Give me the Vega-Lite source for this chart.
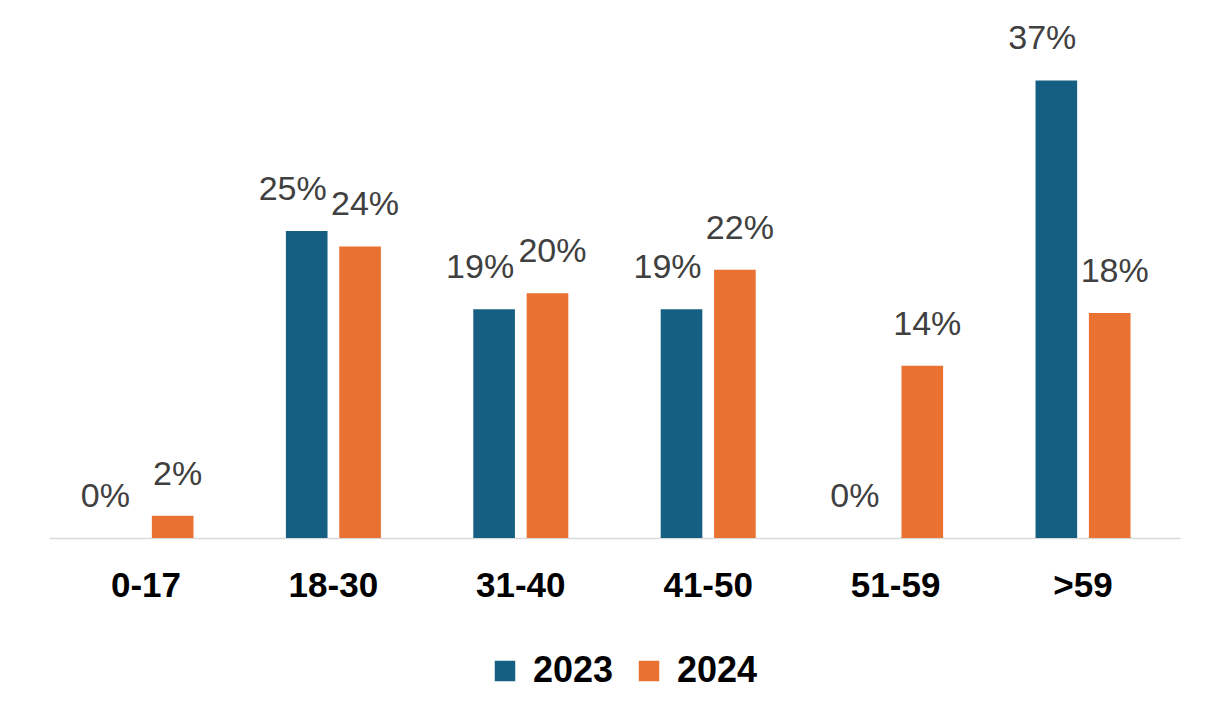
{
  "$schema": "https://vega.github.io/schema/vega-lite/v6.json",
  "autosize": "none",
  "width": 1131,
  "height": 492,
  "padding": {"left": 49, "top": 46, "right": 40, "bottom": 188},
  "background": "white",
  "config": {
    "view": {"stroke": null},
    "font": "Liberation Sans"
  },
  "data": {
    "values": [
      {"age": "0-17", "year": "2023", "value": 0.0},
      {"age": "0-17", "year": "2024", "value": 0.018},
      {"age": "18-30", "year": "2023", "value": 0.2496},
      {"age": "18-30", "year": "2024", "value": 0.237},
      {"age": "31-40", "year": "2023", "value": 0.186},
      {"age": "31-40", "year": "2024", "value": 0.199},
      {"age": "41-50", "year": "2023", "value": 0.186},
      {"age": "41-50", "year": "2024", "value": 0.218},
      {"age": "51-59", "year": "2023", "value": 0.0},
      {"age": "51-59", "year": "2024", "value": 0.14},
      {"age": ">59", "year": "2023", "value": 0.372},
      {"age": ">59", "year": "2024", "value": 0.183}
    ]
  },
  "encoding": {
    "x": {
      "field": "age",
      "type": "nominal",
      "sort": null,
      "scale": {"paddingInner": 0.493, "paddingOuter": 0.264},
      "axis": {
        "title": null,
        "labelAngle": 0,
        "labelFont": "Liberation Sans",
        "labelFontSize": 35,
        "labelFontWeight": "bold",
        "labelColor": "#000000",
        "labelPadding": 30,
        "ticks": false,
        "domainColor": "#d9d9d9",
        "domainWidth": 1.5
      }
    },
    "xOffset": {
      "field": "year",
      "type": "nominal",
      "scale": {"paddingInner": 0.22, "paddingOuter": 0}
    },
    "y": {
      "field": "value",
      "type": "quantitative",
      "scale": {"domain": [0, 0.4], "nice": false},
      "axis": null
    }
  },
  "layer": [
    {
      "mark": {"type": "bar"},
      "encoding": {
        "color": {
          "field": "year",
          "type": "nominal",
          "scale": {"domain": ["2023", "2024"], "range": ["#156082", "#E97132"]},
          "legend": {
            "title": null,
            "orient": "none",
            "legendX": 438,
            "legendY": 607,
            "direction": "horizontal",
            "symbolType": "square",
            "symbolSize": 420,
            "symbolStrokeWidth": 0,
            "labelFont": "Liberation Sans",
            "labelFontSize": 36,
            "labelFontWeight": "bold",
            "labelColor": "#000000",
            "labelOffset": 10,
            "columnPadding": 17
          }
        }
      }
    },
    {
      "transform": [{"filter": "datum.year == '2023'"}],
      "mark": {
        "type": "text",
        "dy": -41,
        "dx": -14,
        "baseline": "middle",
        "align": "center",
        "fontSize": 34,
        "font": "Liberation Sans",
        "color": "#404040"
      },
      "encoding": {
        "text": {"field": "value", "type": "quantitative", "format": ".0%"}
      }
    },
    {
      "transform": [{"filter": "datum.year == '2024'"}],
      "mark": {
        "type": "text",
        "dy": -41,
        "dx": 5,
        "baseline": "middle",
        "align": "center",
        "fontSize": 34,
        "font": "Liberation Sans",
        "color": "#404040"
      },
      "encoding": {
        "text": {"field": "value", "type": "quantitative", "format": ".0%"}
      }
    }
  ]
}
